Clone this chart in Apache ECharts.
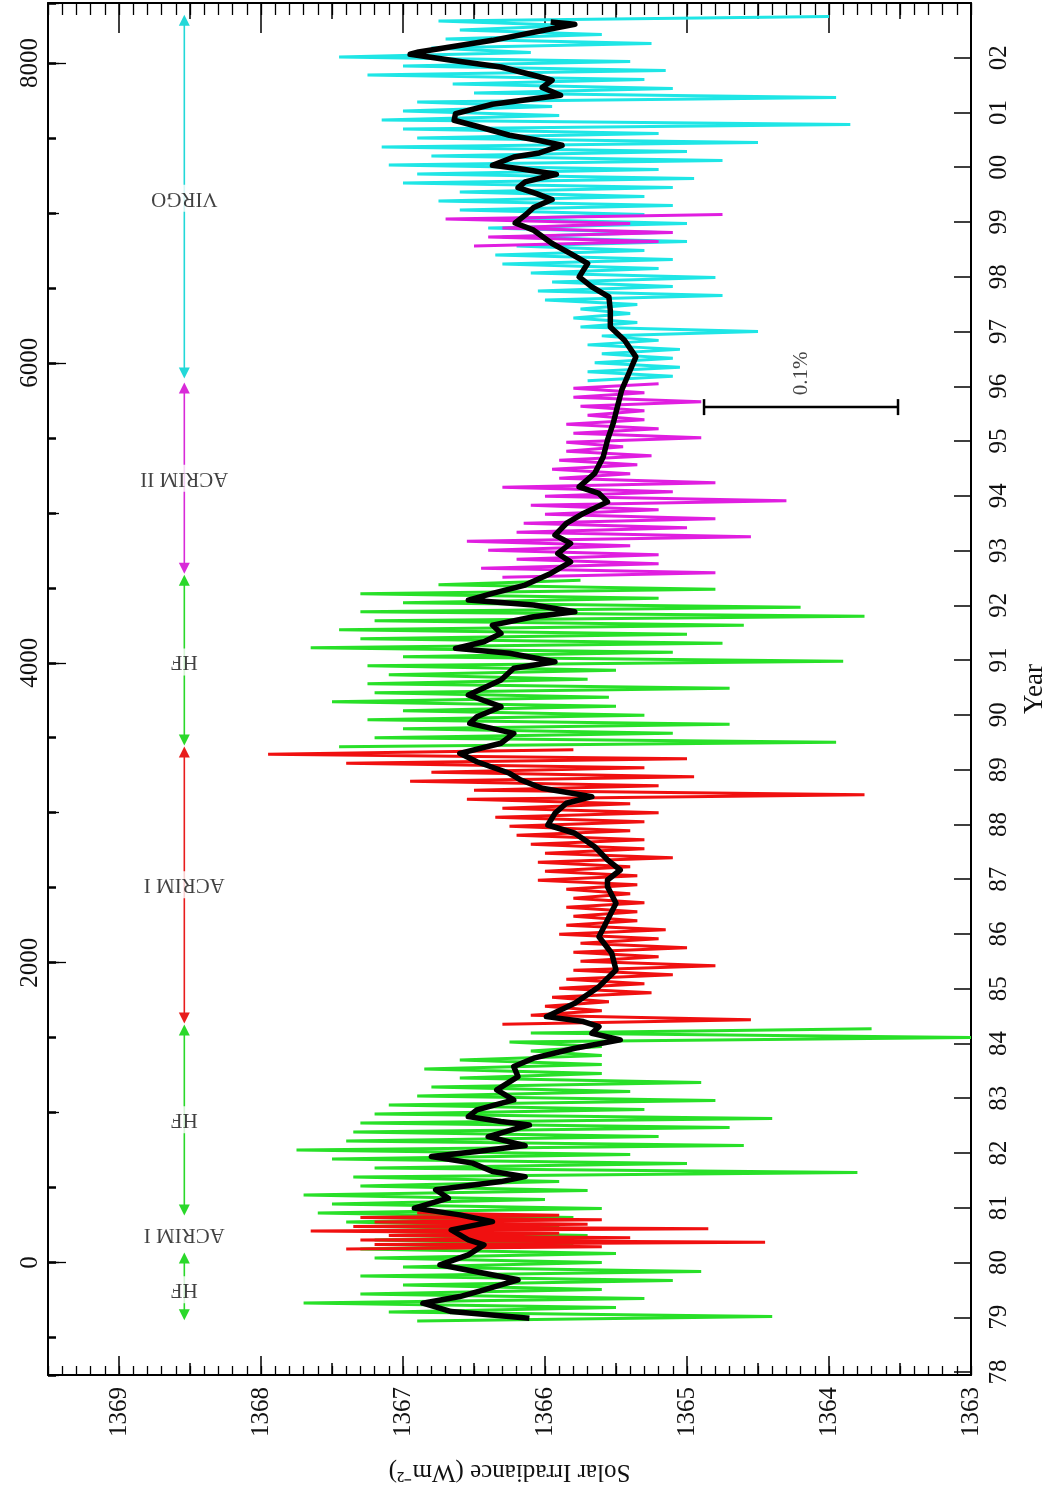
<!DOCTYPE html>
<html>
<head>
<meta charset="utf-8">
<script src="https://cdn.jsdelivr.net/npm/echarts@6.0.0/dist/echarts.min.js"></script>
<style>
html, body { margin: 0; padding: 0; background: #fff; }
#chart { width: 1056px; height: 1505px; }
</style>
</head>
<body>
<div id="chart"></div>
<script>
// days since 1980-01-01 (vertical) vs solar irradiance in W/m2 (horizontal, reversed)
var hf1Start = -390, hf1Step = 30
var hf1Vals = [1366.9, 1364.4, 1367.1, 1365.5, 1367.7, 1365.3, 1367.3, 1365.6, 1367.0, 1365.1,
  1367.3, 1364.9, 1367.0, 1365.6, 1367.2, 1365.5, 1367.3, 1365.8, 1367.2, 1365.7,
  1367.3, 1365.9, 1367.4, 1365.8, 1367.6, 1365.6, 1367.5, 1366.0, 1367.7, 1365.7,
  1367.3, 1365.9, 1367.35, 1363.8, 1367.2, 1365.0, 1367.5, 1365.4, 1367.75, 1364.6,
  1367.4, 1365.2, 1367.35, 1364.7, 1367.3, 1364.4, 1367.2, 1365.3, 1367.1, 1364.8,
  1366.9, 1365.4, 1366.8, 1364.9, 1366.6, 1365.6, 1366.85, 1365.6, 1366.6, 1365.6,
  1366.1, 1365.6, 1366.25, 1363.0, 1366.1, 1363.7]

var acrim1aStart = 90, acrim1aStep = 15
var acrim1aVals = [1367.4, 1365.6, 1367.2, 1364.45, 1367.3, 1365.4, 1367.1, 1365.9, 1367.65,
  1364.85, 1367.35, 1365.7, 1367.2, 1365.6, 1367.3, 1365.9, 1366.9]

var acrim1Start = 1590, acrim1Step = 30
var acrim1Vals = [1366.3, 1364.55, 1366.1, 1365.6, 1366.0, 1365.55, 1365.95, 1365.25, 1365.9, 1365.3,
  1365.85, 1365.1, 1365.8, 1364.8, 1365.75, 1365.2, 1365.8, 1365.0, 1365.75, 1365.2,
  1365.9, 1365.15, 1365.85, 1365.35, 1365.8, 1365.35, 1365.85, 1365.3, 1365.8, 1365.4,
  1365.85, 1365.35, 1366.05, 1365.35, 1366.0, 1365.4, 1366.05, 1365.1, 1366.0, 1365.3,
  1366.1, 1365.3, 1366.2, 1365.4, 1366.25, 1365.3, 1366.35, 1365.2, 1366.3, 1365.4,
  1366.55, 1363.75, 1366.5, 1365.2, 1366.95, 1364.95, 1366.8, 1365.3, 1367.4, 1365.0,
  1367.95, 1365.8]

var hf2Start = 3440, hf2Step = 30
var hf2Vals = [1367.45, 1363.95, 1367.2, 1365.1, 1367.0, 1364.7, 1367.25, 1365.3, 1367.0, 1365.5,
  1367.5, 1365.55, 1367.2, 1364.7, 1367.25, 1365.7, 1367.1, 1365.5, 1367.25, 1363.9,
  1367.0, 1365.1, 1367.65, 1364.75, 1367.3, 1365.0, 1367.45, 1364.6, 1367.2, 1363.75,
  1367.3, 1364.2, 1367.0, 1365.2, 1367.3, 1364.8, 1366.75, 1365.75]

var acrim2Start = 4570, acrim2Step = 30
var acrim2Vals = [1366.3, 1364.8, 1366.45, 1365.2, 1366.2, 1365.2, 1366.4, 1365.4, 1366.55, 1364.55,
  1366.2, 1365.0, 1366.15, 1364.8, 1366.0, 1365.2, 1366.1, 1364.3, 1366.0, 1365.1,
  1366.3, 1364.8, 1365.9, 1365.4, 1365.95, 1365.35, 1365.9, 1365.25, 1365.85, 1365.45,
  1365.85, 1364.9, 1365.8, 1365.2, 1365.85, 1365.3, 1365.7, 1365.3, 1365.75, 1364.9,
  1365.8, 1365.3, 1365.8, 1365.2]

var acrim2bStart = 6780, acrim2bStep = 30
var acrim2bVals = [1366.5, 1365.2, 1366.4, 1365.1, 1366.3, 1365.4, 1366.7, 1364.75]

var virgoStart = 5880, virgoStep = 30
var virgoVals = [1365.7, 1365.1, 1365.7, 1365.05, 1365.65, 1365.1, 1365.6, 1365.05, 1365.7, 1365.2,
  1365.6, 1364.5, 1365.75, 1365.35, 1365.8, 1365.4, 1365.75, 1365.35, 1366.0, 1364.75,
  1366.05, 1365.1, 1365.95, 1364.8, 1366.1, 1365.2, 1366.3, 1365.1, 1366.35, 1365.3,
  1366.2, 1365.0, 1366.3, 1365.2, 1366.4, 1365.0, 1366.35, 1365.3, 1366.6, 1365.1,
  1366.75, 1365.3, 1366.6, 1365.1, 1367.0, 1364.95, 1366.9, 1365.2, 1367.1, 1364.75,
  1366.8, 1365.0, 1367.15, 1364.5, 1366.9, 1365.2, 1367.0, 1363.85, 1367.15, 1365.9,
  1367.0, 1365.95, 1366.9, 1363.95, 1366.5, 1365.1, 1366.65, 1365.3, 1367.25, 1365.15,
  1367.0, 1365.4, 1367.45, 1366.1, 1366.8, 1365.25, 1366.7, 1365.6, 1366.6, 1365.8,
  1366.75, 1364.0]

// 81-day running mean (thick black)
var meanDays = [-371, -327, -271, -227, -182, -115, -71, -15, 51, 118, 151, 218, 273, 318, 363, 429,
  485, 540, 573, 607, 663, 707, 740, 780, 840, 918, 940, 973, 1018, 1085, 1151, 1240,
  1307, 1363, 1429, 1485, 1529, 1573, 1607, 1640, 1729, 1840, 1951, 2063, 2173, 2285,
  2396, 2507, 2551, 2618, 2685, 2773, 2863, 2918, 2996, 3063, 3107, 3163, 3218, 3263,
  3340, 3396, 3463, 3529, 3596, 3640, 3707, 3785, 3885, 3963, 4007, 4063, 4096, 4140,
  4196, 4251, 4307, 4340, 4385, 4418, 4463, 4518, 4596, 4673, 4729, 4796, 4851, 4929,
  4996, 5073, 5129, 5173, 5263, 5373, 5485, 5596, 5707, 5818, 5929, 6040, 6151, 6240,
  6351, 6440, 6507, 6573, 6663, 6729, 6796, 6885, 6933, 6985, 7036, 7089, 7129, 7169,
  7207, 7258, 7296, 7318, 7373, 7400, 7451, 7485, 7518, 7578, 7618, 7662, 7725, 7785,
  7836, 7885, 7918, 7973, 8018, 8058, 8073, 8151, 8258, 8273]
var meanVals = [1366.11, 1366.66, 1366.86, 1366.60, 1366.43, 1366.19, 1366.43, 1366.74, 1366.54,
  1366.43, 1366.54, 1366.66, 1366.37, 1366.60, 1366.92, 1366.68, 1366.77, 1366.31, 1366.14,
  1366.37, 1366.51, 1366.80, 1366.48, 1366.14, 1366.40, 1366.11, 1366.31, 1366.54, 1366.48,
  1366.22, 1366.34, 1366.19, 1366.22, 1366.08, 1365.79, 1365.47, 1365.67, 1365.62, 1365.73,
  1365.99, 1365.79, 1365.62, 1365.50, 1365.53, 1365.62, 1365.56, 1365.50, 1365.56, 1365.56,
  1365.47, 1365.56, 1365.65, 1365.79, 1365.98, 1365.93, 1365.85, 1365.67, 1366.02, 1366.17,
  1366.25, 1366.48, 1366.60, 1366.31, 1366.22, 1366.53, 1366.48, 1366.31, 1366.54, 1366.31,
  1366.22, 1365.93, 1366.25, 1366.63, 1366.43, 1366.31, 1366.37, 1366.08, 1365.79, 1366.08,
  1366.54, 1366.37, 1366.14, 1365.96, 1365.82, 1365.91, 1365.82, 1365.93, 1365.85, 1365.73,
  1365.56, 1365.62, 1365.76, 1365.65, 1365.59, 1365.56, 1365.52, 1365.49, 1365.46, 1365.41,
  1365.36, 1365.44, 1365.54, 1365.54, 1365.55, 1365.67, 1365.76, 1365.70, 1365.82, 1365.95,
  1366.08, 1366.21, 1366.14, 1366.08, 1365.95, 1366.06, 1366.19, 1366.14, 1365.92, 1366.19,
  1366.37, 1366.22, 1366.04, 1365.88, 1366.05, 1366.25, 1366.48, 1366.64, 1366.63, 1366.37,
  1365.89, 1366.02, 1365.95, 1366.08, 1366.31, 1366.66, 1366.95, 1366.89, 1366.37, 1365.79,
  1365.96]

// instrument periods (arrow start/end day) and where the names sit
var instNames = ['HF', 'HF', 'ACRIM I', 'HF', 'ACRIM II', 'VIRGO']
var instFrom = [-349, 351, 1631, 3485, 4631, 5933]
var instTo = [31, 1551, 3405, 4551, 5833, 8285]
var labelNames = ['HF', 'ACRIM I', 'HF', 'ACRIM I', 'HF', 'ACRIM II', 'VIRGO']
var labelDays = [-181, 185, 952, 2519, 4005, 5231, 7098]
var instIrr = 1368.54

// 0.1% scale bar
var barIrr = 1364.88, barDay = 5705, barPct = 0.1
var irrMin = 1363, irrMax = 1369.5
var dayMin = -750, dayMax = 8400

var FONT = 'Liberation Serif, serif'
var TXT = '#111'
var instColor = { 'HF': '#2ad82a', 'ACRIM I': '#e81c1c', 'ACRIM II': '#d82ad8', 'VIRGO': '#22d8d8' }

function zig(start, step, vals) {
  return vals.map(function (v, i) { return [v, start + i * step] })
}

function noise(name, start, step, vals, color) {
  return {
    name: name, type: 'line', data: zig(start, step, vals), showSymbol: false, symbol: 'none',
    lineStyle: { color: color, width: 3 }, silent: true, z: 2, animation: false
  }
}

function plain(v) { return String(v) }

function irrAxis(pos, interval, len, width, main) {
  return {
    type: 'value', position: pos, inverse: true, min: irrMin, max: irrMax,
    minInterval: interval, maxInterval: interval,
    axisLine: { show: main, onZero: false, lineStyle: { color: '#000', width: 2 } },
    axisTick: { show: true, inside: true, length: len, lineStyle: { color: '#000', width: width } },
    axisLabel: { show: false },
    splitLine: { show: false }
  }
}

function dayAxis(interval, len, width, main) {
  return {
    type: 'value', position: 'left', min: dayMin, max: dayMax,
    minInterval: interval, maxInterval: interval,
    axisLine: { show: main, onZero: false, lineStyle: { color: '#000', width: 2 } },
    axisTick: { show: true, inside: true, length: len, lineStyle: { color: '#000', width: width } },
    axisLabel: { show: false },
    splitLine: { show: false }
  }
}

var xAxes = [
  irrAxis('bottom', 1, 19, 1.5, true),
  irrAxis('bottom', 0.5, 12, 1.5, false),
  irrAxis('bottom', 0.1, 9, 1.3, false),
  irrAxis('top', 1, 30, 1.5, true),
  irrAxis('top', 0.5, 16, 1.5, false),
  irrAxis('top', 0.1, 12, 1.3, false)
]
xAxes[0].axisLabel = {
  show: true, rotate: 90, margin: 12, fontFamily: FONT, fontSize: 25, color: TXT,
  showMaxLabel: false, formatter: plain
}
xAxes[0].name = 'Solar Irradiance (Wm\u207B\u00B2)'
xAxes[0].nameLocation = 'middle'
xAxes[0].nameRotate = 180
xAxes[0].nameGap = 84
xAxes[0].nameTextStyle = { fontFamily: FONT, fontSize: 25, color: TXT }

var yAxes = [
  dayAxis(2000, 18, 1.3, true),
  dayAxis(500, 8, 2.5, false),
  dayAxis(1000, 11, 1.3, false),
  {
    type: 'value', position: 'right',
    min: 1980 + dayMin / 365.25, max: 1980 + dayMax / 365.25,
    minInterval: 1, maxInterval: 1,
    axisLine: { show: true, onZero: false, lineStyle: { color: '#000', width: 2 } },
    axisTick: { show: true, inside: true, length: 17, lineStyle: { color: '#000', width: 1.5 } },
    axisLabel: {
      show: true, rotate: 90, margin: 16, fontFamily: FONT, fontSize: 25, color: TXT,
      showMinLabel: false, showMaxLabel: false,
      formatter: function (v) { return String(Math.round(v) % 100).padStart(2, '0') }
    },
    splitLine: { show: false },
    name: 'Year', nameLocation: 'middle', nameRotate: 90, nameGap: 50,
    nameTextStyle: { fontFamily: FONT, fontSize: 27, color: TXT }
  }
]
yAxes[0].axisLabel = {
  show: true, rotate: 90, margin: 5, fontFamily: FONT, fontSize: 25, color: TXT,
  showMinLabel: false, showMaxLabel: false, formatter: plain
}

var series = [
  noise('HF', hf1Start, hf1Step, hf1Vals, '#28e028'),
  noise('ACRIM I 1980', acrim1aStart, acrim1aStep, acrim1aVals, '#f01010'),
  noise('ACRIM I', acrim1Start, acrim1Step, acrim1Vals, '#f01010'),
  noise('HF 2', hf2Start, hf2Step, hf2Vals, '#28e028'),
  noise('VIRGO', virgoStart, virgoStep, virgoVals, '#1fe6e6'),
  noise('ACRIM II', acrim2Start, acrim2Step, acrim2Vals, '#e01ee0'),
  noise('ACRIM II late', acrim2bStart, acrim2bStep, acrim2bVals, '#e01ee0'),
  {
    name: 'mean', type: 'line', showSymbol: false, symbol: 'none', silent: true, z: 5,
    data: meanDays.map(function (d, i) { return [meanVals[i], d] }),
    lineStyle: { color: '#000', width: 5.5, join: 'round' }
  }
]

// instrument arrows
instNames.forEach(function (n, i) {
  series.push({
    type: 'line', silent: true, z: 3, symbol: 'triangle', symbolSize: 11, showSymbol: true,
    data: [
      { value: [instIrr, instFrom[i]], symbolRotate: 180 },
      { value: [instIrr, instTo[i]], symbolRotate: 0 }
    ],
    lineStyle: { color: instColor[n], width: 1.6 },
    itemStyle: { color: instColor[n], borderWidth: 0 }
  })
})

// instrument names (white box interrupts the line)
series.push({
  type: 'scatter', silent: true, z: 6, symbolSize: 2, itemStyle: { color: 'rgba(255,255,255,0)' },
  data: labelNames.map(function (n, i) { return { name: n, value: [instIrr, labelDays[i]] } }),
  label: {
    show: true, position: 'inside', rotate: 180, formatter: '{b}',
    fontFamily: FONT, fontSize: 21, color: TXT, backgroundColor: '#fff', padding: [3, 4]
  }
})

// 0.1% bar
series.push({
  type: 'line', silent: true, z: 6, symbol: 'rect', symbolSize: [2.5, 16], showSymbol: true,
  data: [[barIrr, barDay], [barIrr - 1366 * barPct / 100, barDay]],
  lineStyle: { color: '#000', width: 2.5 }, itemStyle: { color: '#000' }
})
series.push({
  type: 'scatter', silent: true, z: 6, symbolSize: 2, itemStyle: { color: 'rgba(255,255,255,0)' },
  data: [{ name: barPct + '%', value: [barIrr - 1366 * barPct / 200, barDay + 225] }],
  label: {
    show: true, position: 'inside', rotate: 90, formatter: '{b}',
    fontFamily: FONT, fontSize: 21, color: TXT
  }
})

var chart = echarts.init(document.getElementById('chart'), null, { renderer: 'canvas' })
chart.setOption({
  animation: false,
  backgroundColor: '#fff',
  grid: { left: 48, right: 74, top: 3, bottom: 130 },
  xAxis: xAxes,
  yAxis: yAxes,
  series: series
})
</script>
</body>
</html>
